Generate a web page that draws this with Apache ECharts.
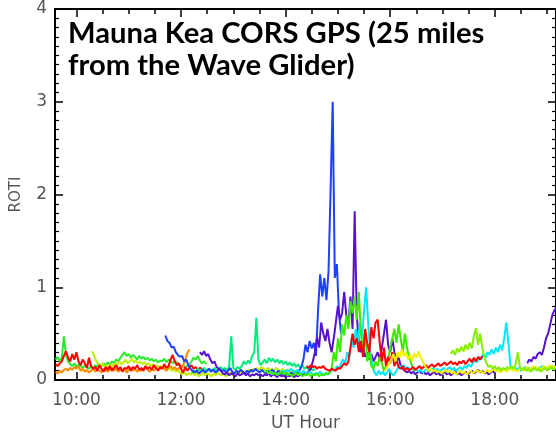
<!DOCTYPE html>
<html>
<head>
<meta charset="utf-8">
<script src="https://cdn.jsdelivr.net/npm/echarts@6/dist/echarts.min.js"></script>
<style>
  html, body { margin: 0; padding: 0; background: #fff; }
  #chart { width: 556px; height: 437px; }
</style>
</head>
<body>
<div id="chart"></div>
<script>
// ROTI per satellite track, one sample every STEP hours from each track's start hour
const STEP = 0.04;

const greenA = { start: 9.60, color: '#2ee82e', values: [
  0.22,0.25,0.20,0.24,0.47,0.27,0.20,0.17,0.15,0.18,
  0.14,0.17,0.15,0.13,0.16,0.14,0.12,0.15,0.13,0.16,
  0.14,0.17,0.15,0.18,0.16,0.19,0.17,0.20,0.18,0.22,
  0.20,0.24,0.27,0.30,0.26,0.28,0.24,0.27,0.25,0.22,
  0.26,0.23,0.25,0.22,0.24,0.21,0.23,0.20,0.22,0.19,
  0.21,0.20,0.23,0.19,0.22,0.20,0.18,0.21,0.19,0.17,
  0.14,0.16,0.13,0.15,0.17,0.20,0.24,0.22,0.26,0.21,
  0.18,0.20,0.17] };

const yellowGreen = { start: 10.30, color: '#bef000', values: [
  0.31,0.26,0.20,0.17,0.15,0.18,0.14,0.16,0.13,0.17,
  0.15,0.18,0.16,0.20,0.17,0.19,0.22,0.18,0.20,0.23,
  0.19,0.21,0.18,0.20,0.17,0.19,0.16,0.18,0.15,0.17,
  0.14,0.16,0.13,0.15,0.12,0.14,0.11,0.13,0.10,0.12,
  0.09,0.11,0.08,0.06,0.09,0.05,0.07,0.06,0.08,0.05,
  0.07,0.04,0.06,0.08,0.05,0.07,0.06,0.04,0.07,0.05,
  0.08,0.06,0.05,0.07,0.04,0.06,0.08,0.05,0.07,0.09,
  0.06,0.08,0.10,0.07,0.09,0.11,0.08,0.12,0.10,0.13,
  0.11,0.14,0.12,0.10,0.13,0.11,0.12,0.10,0.13,0.11,
  0.09,0.12,0.10,0.08,0.11,0.09,0.07,0.10,0.08,0.06] };

const orange = { start: 9.60, color: '#ff8a00', values: [
  0.09,0.07,0.10,0.08,0.11,0.12,0.10,0.13,0.11,0.14,
  0.12,0.15,0.10,0.12,0.09,0.11,0.08,0.10,0.12,0.09,
  0.11,0.10,0.08,0.12,0.10,0.09,0.11,0.13,0.10,0.12,
  0.09,0.11,0.10,0.12,0.08,0.11,0.13,0.10,0.12,0.09,
  0.11,0.10,0.12,0.14,0.11,0.09,0.12,0.10,0.13,0.11,
  0.12,0.14,0.12,0.10,0.13,0.15,0.12,0.14,0.11,0.13,
  0.12,0.16,0.22,0.29,0.33] };

const redA = { start: 9.60, color: '#ff0000', values: [
  0.17,0.15,0.18,0.20,0.26,0.31,0.24,0.20,0.28,0.22,
  0.30,0.20,0.16,0.22,0.18,0.13,0.24,0.15,0.12,0.14,
  0.10,0.16,0.12,0.09,0.14,0.11,0.15,0.10,0.13,0.16,
  0.11,0.14,0.09,0.13,0.12,0.15,0.10,0.14,0.12,0.16,
  0.11,0.13,0.10,0.15,0.12,0.14,0.11,0.16,0.13,0.10,
  0.14,0.12,0.17,0.13,0.15,0.22,0.27,0.20,0.16,0.18,
  0.12,0.08,0.14,0.10,0.13,0.16,0.12,0.14,0.11,0.13,0.12] };

const springGreen = { start: 12.20, color: '#00ec7a', values: [
  0.08,0.10,0.09,0.12,0.10,0.11,0.13,0.10,0.12,0.09,
  0.11,0.13,0.10,0.12,0.14,0.11,0.13,0.10,0.15,0.47,
  0.13,0.11,0.14,0.12,0.15,0.20,0.17,0.21,0.18,0.26,
  0.30,0.67,0.22,0.16,0.19,0.22,0.18,0.24,0.20,0.23,
  0.19,0.22,0.18,0.21,0.17,0.20,0.16,0.19,0.15,0.18,
  0.14,0.17,0.13,0.16,0.12,0.14,0.11,0.13,0.10,0.12] };

const blue = { start: 11.70, color: '#1e40ff', values: [
  0.48,0.42,0.40,0.35,0.36,0.30,0.27,0.25,0.26,0.20,
  0.22,0.16,0.12,0.10,0.08,0.10,0.07,0.09,0.11,0.08,
  0.10,0.12,0.09,0.11,0.08,0.10,0.12,0.09,0.11,0.08,
  0.10,0.13,0.09,0.07,0.10,0.08,0.11,0.09,0.07,0.10,
  0.08,0.11,0.09,0.12,0.10,0.08,0.11,0.09,0.07,0.10,
  0.08,0.11,0.09,0.07,0.10,0.08,0.06,0.09,0.07,0.05,
  0.08,0.06,0.09,0.07,0.10,0.14,0.22,0.38,0.30,0.42,
  0.34,0.40,0.26,0.75,1.14,0.90,1.10,0.86,1.17,2.05,
  3.00,1.10,1.25,0.72,0.50] };

const purpleA = { start: 12.36, color: '#5812cc', values: [
  0.30,0.27,0.31,0.26,0.28,0.22,0.18,0.20,0.14,0.12,
  0.10,0.07,0.06,0.08,0.05,0.07,0.06,0.04,0.07,0.05,
  0.06,0.08,0.05,0.07,0.04,0.06,0.05,0.07,0.05,0.06,
  0.04,0.06,0.05,0.07,0.04,0.06,0.05,0.03,0.06,0.04,
  0.05,0.03,0.05,0.04,0.06,0.03,0.05,0.04,0.06,0.05,
  0.07,0.06,0.09,0.12,0.20,0.30,0.46,0.35,0.62,0.50,
  0.42,0.55,0.40,0.30,0.45,0.62,0.80,0.65,0.72,0.95,
  0.70,0.60,0.90,0.55,1.82,0.70,0.40,0.30,0.35,0.25,
  0.30,0.22,0.28,0.20,0.25,0.30,0.22,0.35,0.50,0.65,
  0.38,0.30,0.45,0.30,0.20,0.25,0.15,0.12,0.10,0.08,
  0.10,0.07,0.09,0.06,0.08,0.10,0.07,0.09,0.06,0.08,
  0.05,0.07,0.09,0.06,0.08,0.05,0.07,0.09,0.06,0.08,
  0.05,0.07,0.10,0.06,0.08,0.05,0.07,0.09,0.06,0.08,
  0.10,0.07,0.09,0.11,0.08,0.10,0.07,0.09,0.06,0.08,
  0.10,0.07] };

const cyan = { start: 13.90, color: '#00e6ff', values: [
  0.08,0.10,0.07,0.11,0.09,0.12,0.10,0.08,0.11,0.09,
  0.07,0.10,0.08,0.06,0.09,0.07,0.05,0.08,0.06,0.09,
  0.07,0.05,0.08,0.06,0.09,0.12,0.10,0.15,0.12,0.18,
  0.22,0.18,0.30,0.25,0.45,0.35,0.55,0.40,0.62,0.45,
  0.75,1.00,0.60,0.30,0.15,0.08,0.05,0.10,0.06,0.09,
  0.05,0.08,0.12,0.07,0.05,0.08,0.12,0.15,0.13,0.16,
  0.12,0.14,0.11,0.13,0.10,0.12,0.09,0.11,0.08,0.10,
  0.12,0.09,0.11,0.13,0.10,0.12,0.09,0.11,0.13,0.10,
  0.12,0.14,0.11,0.13,0.10,0.12,0.14,0.11,0.15,0.13,
  0.17,0.14,0.18,0.22,0.19,0.25,0.22,0.28,0.24,0.30,
  0.27,0.33,0.28,0.35,0.30,0.38,0.32,0.45,0.62,0.40,
  0.15,0.12,0.14,0.11,0.13,0.10,0.12,0.14,0.11,0.13,
  0.10,0.12,0.14,0.11,0.13,0.15,0.12,0.14,0.11,0.13,
  0.15,0.12,0.14] };

const greenB = { start: 13.60, color: '#3cec00', values: [
  0.08,0.10,0.07,0.09,0.06,0.08,0.05,0.07,0.09,0.06,
  0.08,0.05,0.07,0.04,0.06,0.08,0.05,0.07,0.04,0.06,
  0.05,0.07,0.04,0.06,0.05,0.07,0.04,0.06,0.05,0.07,
  0.06,0.08,0.12,0.30,0.20,0.45,0.30,0.60,0.48,0.70,
  0.55,0.85,0.72,0.90,0.65,0.95,0.50,0.30,0.55,0.20,
  0.30,0.15,0.12,0.20,0.15,0.25,0.18,0.10,0.15,0.22,
  0.35,0.45,0.55,0.40,0.60,0.45,0.30,0.50,0.35,0.25,
  0.18,0.12,0.10] };

const redB = { start: 14.40, color: '#ff0000', values: [
  0.15,0.13,0.16,0.14,0.15,0.12,0.14,0.13,0.15,0.12,
  0.11,0.10,0.12,0.11,0.10,0.13,0.12,0.15,0.18,0.16,
  0.20,0.35,0.50,0.38,0.45,0.30,0.42,0.25,0.55,0.40,
  0.30,0.57,0.45,0.62,0.65,0.40,0.20,0.35,0.15,0.25,
  0.18,0.30,0.15,0.22,0.14,0.12,0.15,0.10,0.13,0.11,
  0.12,0.14,0.11,0.13,0.15,0.12,0.14,0.16,0.13,0.15,
  0.17,0.14,0.16,0.18,0.15,0.17,0.19,0.16,0.18,0.20,
  0.17,0.19,0.16,0.20,0.18,0.21,0.17,0.20,0.23,0.19,
  0.24,0.20,0.25,0.22,0.26] };

const yellow = { start: 15.90, color: '#f2f200', values: [
  0.10,0.14,0.18,0.22,0.28,0.20,0.30,0.24,0.33,0.26,
  0.30,0.22,0.27,0.20,0.29,0.24,0.31,0.25,0.20,0.16,
  0.12,0.10,0.12,0.09,0.11,0.08,0.10,0.07,0.09,0.11,
  0.08,0.10,0.07,0.09,0.06,0.08,0.10,0.07,0.09,0.06,
  0.08,0.10,0.07,0.09,0.11,0.08,0.10,0.07,0.09,0.11,
  0.08,0.10,0.12,0.09,0.11,0.08,0.10,0.12,0.09,0.11,
  0.13,0.10,0.12,0.09,0.11,0.13,0.10,0.12,0.14,0.11,
  0.13,0.15,0.12,0.14,0.11,0.13,0.15,0.12,0.14,0.16,
  0.13,0.15,0.12] };

const lime = { start: 17.16, color: '#86ee00', values: [
  0.28,0.32,0.27,0.34,0.30,0.36,0.31,0.38,0.33,0.40,
  0.34,0.48,0.56,0.38,0.50,0.35,0.25,0.18,0.14,0.16,
  0.12,0.15,0.11,0.14,0.10,0.13,0.11,0.14,0.12,0.15,
  0.12,0.18,0.30,0.14,0.11,0.13,0.10,0.12,0.09,0.11,
  0.13,0.10,0.12,0.09,0.11,0.13,0.10,0.12,0.14,0.11,
  0.13] };

const purpleB = { start: 18.62, color: '#5812cc', values: [
  0.18,0.22,0.20,0.25,0.23,0.28,0.30,0.27,0.35,0.45,
  0.50,0.60,0.70,0.75,0.78,0.80] };

const tracks = [greenA, yellowGreen, orange, redA, springGreen, blue, purpleA,
                cyan, greenB, redB, yellow, lime, purpleB];

// Axis ranges and tick positions (hours UT, ROTI)
const hourMin = 9.59, hourMax = 19.17;
const majorHours = [10, 12, 14, 16, 18];
const minorHours = [10.5, 11, 11.5, 12.5, 13, 13.5, 14.5, 15, 15.5, 16.5, 17, 17.5, 18.5, 19];
const rotiMin = 0, rotiMax = 4;

const titleText = 'Mauna Kea CORS GPS (25 miles\nfrom the Wave Glider)';

const labelFont = { fontFamily: 'DejaVu Sans', fontSize: 17, fontWeight: 'normal', color: '#555555' };

function trackData(t) {
  return t.values.map((v, i) => [t.start + i * STEP, v]);
}

function xAxisDef(position, ticks, len, withLabels) {
  return {
    type: 'value', min: hourMin, max: hourMax, position: position,
    axisLine: { show: true, lineStyle: { color: '#000', width: 2 } },
    axisTick: { show: true, inside: true, length: len, customValues: ticks,
                lineStyle: { color: '#000', width: 1.5 } },
    axisLabel: withLabels
      ? Object.assign({ show: true, customValues: majorHours, margin: 12,
                        formatter: v => v + ':00' }, labelFont)
      : { show: false },
    splitLine: { show: false },
    name: withLabels ? 'UT Hour' : '',
    nameLocation: 'middle', nameGap: 35,
    nameTextStyle: labelFont
  };
}

function yAxisDef(position, withLabels) {
  return {
    type: 'value', min: rotiMin, max: rotiMax, interval: 1, position: position,
    axisLine: { show: true, lineStyle: { color: '#000', width: 2 } },
    axisTick: { show: true, inside: true, length: 8, lineStyle: { color: '#000', width: 1.5 } },
    minorTick: { show: true, splitNumber: 10, length: 4, lineStyle: { color: '#000', width: 1.2 } },
    axisLabel: withLabels ? Object.assign({ show: true, margin: 8 }, labelFont) : { show: false },
    splitLine: { show: false },
    minorSplitLine: { show: false },
    name: withLabels ? 'ROTI' : '',
    nameLocation: 'middle', nameGap: 31, nameRotate: 90,
    nameTextStyle: Object.assign({}, labelFont, { fontSize: 15 })
  };
}

const chart = echarts.init(document.getElementById('chart'), null, { renderer: 'canvas' });
chart.setOption({
  animation: false,
  backgroundColor: '#fff',
  title: {
    text: titleText, left: 68, top: 18, padding: 0,
    textStyle: { fontFamily: 'Lato', fontWeight: 'bold', fontSize: 29.2, lineHeight: 32, color: '#000' }
  },
  grid: { left: 55, top: 9, width: 502, height: 374, containLabel: false },
  xAxis: [
    xAxisDef('bottom', majorHours, 8, true),
    xAxisDef('bottom', minorHours, 5, false),
    xAxisDef('top', majorHours, 8, false),
    xAxisDef('top', minorHours, 5, false)
  ],
  yAxis: [
    yAxisDef('left', true),
    yAxisDef('right', false)
  ],
  series: tracks.map(t => ({
    type: 'line',
    xAxisIndex: 0, yAxisIndex: 0,
    data: trackData(t),
    showSymbol: false, symbol: 'none',
    lineStyle: { color: t.color, width: 2 },
    itemStyle: { color: t.color },
    clip: true,
    silent: true
  }))
});
</script>
</body>
</html>
